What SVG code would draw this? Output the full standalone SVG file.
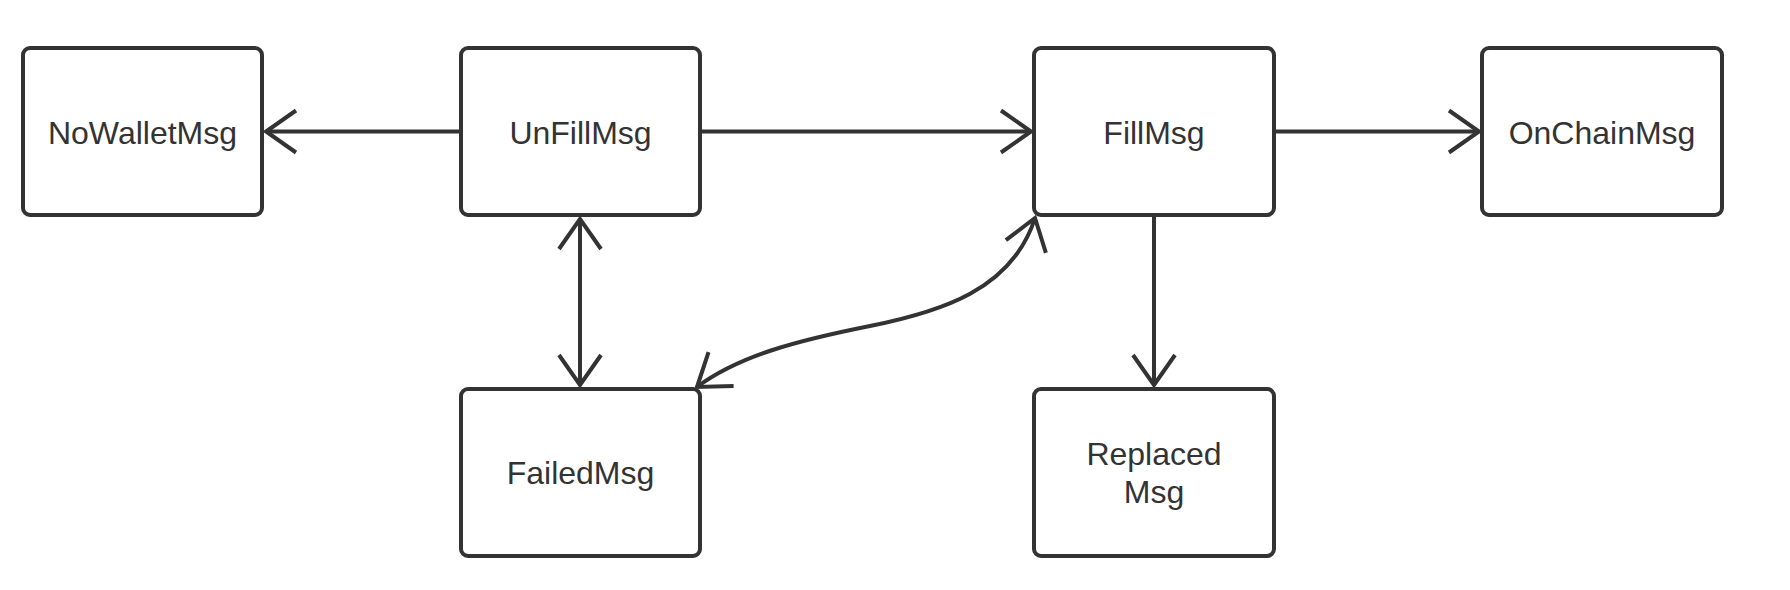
<svg xmlns="http://www.w3.org/2000/svg" width="1790" height="590" viewBox="0 0 1790 590">
<defs>
<style>
.box{fill:#fff;stroke:#333;stroke-width:4}
.lbl{font-family:"Liberation Sans",Arial,sans-serif;font-size:32px;fill:#333;text-anchor:middle}
.edge{fill:none;stroke:#333;stroke-width:4}
</style>
<marker id="arr" markerUnits="userSpaceOnUse" viewBox="-34 -25 38 50" markerWidth="38" markerHeight="50" refX="0" refY="0" orient="auto-start-reverse" overflow="visible">
<path d="M-30,-21 L0,0 L-30,21" fill="none" stroke="#333" stroke-width="4"/>
</marker>
</defs>
<rect width="1790" height="590" fill="#fff"/>
<g id="connectors">
<path class="edge" d="M461,131.5 L266,131.5" marker-end="url(#arr)"/>
<path class="edge" d="M700,131.5 L1031,131.5" marker-end="url(#arr)"/>
<path class="edge" d="M1274,131.5 L1479,131.5" marker-end="url(#arr)"/>
<path class="edge" d="M580,219 L580,385" marker-start="url(#arr)" marker-end="url(#arr)"/>
<path class="edge" d="M1154,216 L1154,385" marker-end="url(#arr)"/>
<path class="edge" d="M697,387 C740,355 800,340 870,326 S1012,290 1035,218" marker-start="url(#arr)" marker-end="url(#arr)"/>
</g>
<g id="NoWalletMsg"><rect class="box" x="23" y="48" width="239" height="167" rx="7"/><text class="lbl" x="142.5" y="144">NoWalletMsg</text></g>
<g id="UnFillMsg"><rect class="box" x="461" y="48" width="239" height="167" rx="7"/><text class="lbl" x="580.5" y="144">UnFillMsg</text></g>
<g id="FillMsg"><rect class="box" x="1034" y="48" width="240" height="167" rx="7"/><text class="lbl" x="1154" y="144">FillMsg</text></g>
<g id="OnChainMsg"><rect class="box" x="1482" y="48" width="240" height="167" rx="7"/><text class="lbl" x="1602" y="144">OnChainMsg</text></g>
<g id="FailedMsg"><rect class="box" x="461" y="389" width="239" height="167" rx="7"/><text class="lbl" x="580.5" y="484">FailedMsg</text></g>
<g id="ReplacedMsg"><rect class="box" x="1034" y="389" width="240" height="167" rx="7"/><text class="lbl" x="1154" y="465">Replaced</text><text class="lbl" x="1154" y="503">Msg</text></g>
</svg>
